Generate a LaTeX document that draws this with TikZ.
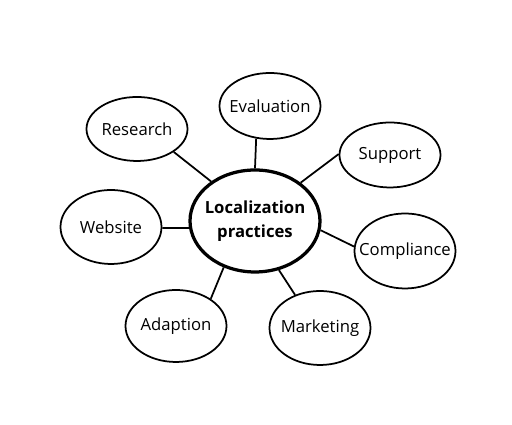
\documentclass[tikz,border=0pt]{standalone}
\usepackage{fontspec}
\setmainfont{Open Sans}
\usetikzlibrary{shapes.geometric}

\begin{document}
\begin{tikzpicture}[
	topic/.style={draw, ellipse, line width=0.35mm, inner xsep=-0.6cm, inner ysep=0pt, minimum width=2.02cm, font=\fontsize{9.5}{11}\selectfont},
	hub/.style={draw, ellipse, line width=0.65mm, inner xsep=-0.6cm, inner ysep=-0.2cm, minimum width=2.6cm, minimum height=2.04cm, align=center, font=\fontsize{9.5}{13.5}\selectfont\bfseries},
	spoke/.style={line width=0.35mm}
	]
	%%%%% START %%%%%
	
	\useasboundingbox (0, 0) rectangle (10.24, 8.5);
	
	\node[hub] (loc) at (5.10, 4.08) {Localization\\practices};
	
	\node[topic, minimum height=1.32cm] (eval) at (5.40, 6.38) {Evaluation};
	\node[topic, minimum height=1.28cm] (res) at (2.74, 5.92) {Research};
	\node[topic, minimum height=1.30cm] (sup) at (7.80, 5.40) {Support};
	\node[topic, minimum height=1.48cm] (web) at (2.22, 3.96) {Website};
	\node[topic, minimum height=1.50cm] (comp) at (8.10, 3.48) {Compliance};
	\node[topic, minimum height=1.44cm] (adap) at (3.52, 1.98) {Adaption};
	\node[topic, minimum height=1.48cm] (mark) at (6.40, 1.94) {Marketing};
	
	\draw[spoke] (loc.138.5) -- (res.-32);
	\draw[spoke] (loc.90) -- (eval.247);
	\draw[spoke] (loc.40) -- (sup.179);
	\draw[spoke] (loc.186) -- (web.-1);
	\draw[spoke] (loc.-8) -- (comp.175);
	\draw[spoke] (loc.236.5) -- (adap.38);
	\draw[spoke] (loc.-64) -- (mark.127);
	
	%%%%% END %%%%%
\end{tikzpicture}
\end{document}
